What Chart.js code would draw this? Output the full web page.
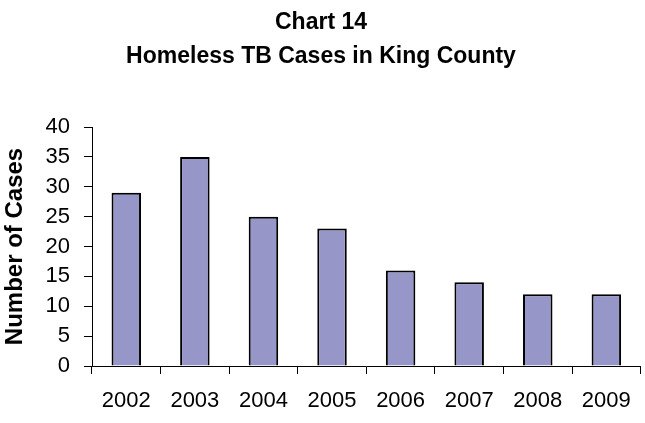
<!DOCTYPE html>
<html>
<head>
<meta charset="utf-8">
<script src="https://cdn.jsdelivr.net/npm/chart.js@4"></script>
<style>
  html, body { margin: 0; padding: 0; background: #fff; }
  canvas { display: block; }
</style>
</head>
<body>
<canvas id="myChart" width="645" height="423"></canvas>
<script>
const years = ['2002', '2003', '2004', '2005', '2006', '2007', '2008', '2009'];
const cases = [29, 35, 25, 23, 16, 14, 12, 12];
const titleLines = ['Chart 14', 'Homeless TB Cases in King County'];
const yLabel = 'Number of Cases';

const ctx = document.getElementById('myChart');
const font = "'Liberation Sans', Arial, sans-serif";

new Chart(ctx, {
  type: 'bar',
  data: {
    labels: years,
    datasets: [{
      data: cases,
      backgroundColor: '#9696c8',
      borderColor: '#000',
      borderWidth: 2,
      categoryPercentage: 1,
      barPercentage: 0.43
    }]
  },
  options: {
    responsive: false,
    animation: false,
    layout: { padding: { left: 0, right: 3, top: 0, bottom: 0 } },
    plugins: {
      legend: { display: false },
      tooltip: { enabled: false },
      title: {
        display: true,
        text: titleLines,
        color: '#000',
        font: { family: font, size: 23, weight: 'bold', lineHeight: 34 / 23 },
        padding: { top: 6, bottom: 53 }
      }
    },
    scales: {
      x: {
        afterFit: (scale) => { scale.height = 57; },
        grid: { drawOnChartArea: false, drawTicks: true, tickLength: 8, color: '#000', offset: true },
        border: { color: '#000', width: 1 },
        ticks: { color: '#000', padding: 14, font: { family: font, size: 22 } }
      },
      y: {
        min: 0,
        max: 40,
        afterFit: (scale) => { scale.width = 92; },
        grid: { drawOnChartArea: false, drawTicks: true, tickLength: 8, color: '#000' },
        border: { color: '#000', width: 1 },
        ticks: { stepSize: 5, color: '#000', padding: 14, font: { family: font, size: 22 } },
        title: {
          display: true,
          text: yLabel,
          color: '#000',
          font: { family: font, size: 24, weight: 'bold' },
          padding: { top: 1, bottom: 0 }
        }
      }
    }
  }
});
</script>
</body>
</html>
